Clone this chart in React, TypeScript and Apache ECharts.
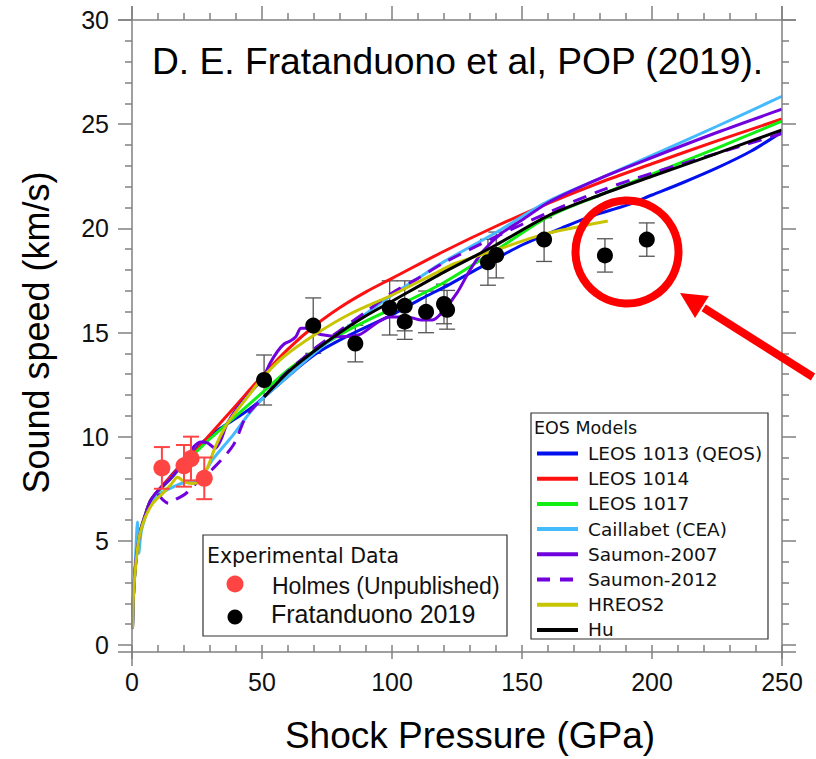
import React, { useEffect, useRef } from "react";
import * as echarts from "echarts";

// ---------- data ----------
const xTickValues = [0, 50, 100, 150, 200, 250];
const yTickValues = [0, 5, 10, 15, 20, 25, 30];

const leos1013: number[][] = [
  [0.2, 0.8], [0.5, 2.2], [1, 3.3], [2, 4.6], [3.5, 5.6], [5, 6.2], [7, 6.9], [10, 7.4],
  [13.5, 7.9], [17, 8.4], [21, 8.9], [26, 9.6], [34, 10.4], [41.5, 11.0], [48, 11.6],
  [60, 12.9], [71, 14.0], [84, 14.9], [100, 15.85], [111, 16.6], [122, 17.3], [135, 18.2],
  [150, 19.2], [165, 20.0], [177, 20.6], [190, 21.1], [200, 21.6], [212, 22.2], [225, 22.9],
  [238, 23.7], [250, 24.63],
];
const leos1014: number[][] = [
  [0.2, 0.8], [0.5, 2.2], [1, 3.3], [2, 4.6], [3.5, 5.6], [5, 6.2], [7, 6.9], [10, 7.4],
  [15, 8.1], [20, 8.8], [25, 9.4], [30, 10.1], [40, 11.5], [50, 12.9], [60, 14.2], [70, 15.3],
  [80, 16.2], [90, 16.95], [100, 17.6], [120, 18.9], [140, 20.1], [160, 21.2], [180, 22.2],
  [200, 23.1], [225, 24.2], [250, 25.25],
];
const leos1017: number[][] = [
  [0.2, 0.8], [0.5, 2.2], [1, 3.3], [2, 4.6], [3.5, 5.6], [5, 6.2], [7, 6.9], [10, 7.35],
  [15, 8.0], [20, 8.7], [25, 9.3], [30, 9.9], [40, 11.0], [50, 12.1], [60, 13.2], [70, 14.1],
  [80, 14.9], [90, 15.55], [100, 16.15], [120, 17.4], [140, 18.95], [160, 20.55], [180, 21.6],
  [200, 22.6], [225, 23.85], [250, 25.15],
];
const caillabet: number[][] = [
  [0.2, 1.0], [0.7, 2.6], [1.4, 4.3], [2.1, 5.9], [2.6, 4.4], [3.5, 5.4], [5, 6.1], [7, 6.8],
  [10, 7.2], [13.5, 7.45], [20, 7.8], [26, 7.95], [31, 8.9], [39, 10.1], [45, 11.1], [50, 11.8],
  [60, 12.9], [70, 14.0], [80, 15.0], [90, 15.9], [100, 16.8], [110, 17.6], [120, 18.4],
  [140, 19.8], [160, 21.3], [180, 22.4], [200, 23.5], [225, 24.9], [250, 26.34],
];
const saumon2007: number[][] = [
  [0.2, 0.8], [0.5, 2.2], [1, 3.3], [2, 4.6], [3.5, 5.6], [5, 6.2], [7, 6.9], [10, 7.4],
  [15, 8.0], [20, 8.8], [24, 9.55], [26.5, 9.75], [29, 9.7], [32, 9.45], [34, 9.8], [36.5, 10.6],
  [40, 11.3], [45.4, 12.1], [50.5, 12.85], [53, 13.5], [56, 14.1], [58.5, 14.45], [61, 14.6],
  [63, 14.8], [65, 15.2], [67, 15.2], [69.5, 15.05], [72.5, 14.9], [80, 14.8], [87.5, 14.9],
  [94, 15.45], [99, 15.75], [106, 15.75], [111, 15.6], [115.5, 15.6], [119.5, 16.0], [125, 16.9],
  [130, 18.0], [135, 18.9], [141.5, 19.7], [150, 20.4], [161, 21.3], [180, 22.4], [200, 23.4],
  [225, 24.6], [250, 25.72],
];
const saumon2012: number[][] = [
  [10, 7.25], [12, 6.95], [14, 6.8], [17, 7.0], [20.5, 7.25], [25, 7.8], [31, 8.45], [39, 9.6],
  [44, 11.0], [50, 11.8], [58, 12.9], [70, 14.2], [80, 15.1], [90, 16.0], [100, 16.9],
  [110, 17.6], [120, 18.35], [140, 19.6], [160, 20.75], [180, 21.8], [200, 22.65], [225, 23.6],
  [250, 24.55],
];
const hreos2: number[][] = [
  [0.2, 0.8], [0.5, 2.2], [1, 3.2], [2, 4.5], [3, 5.3], [5, 6.1], [8, 6.8], [12, 7.3], [15, 7.7],
  [17.5, 8.05], [20, 7.85], [23, 7.75], [26, 7.85], [29, 8.5], [32, 9.5], [36, 10.5], [40, 11.2],
  [45, 12.0], [50, 12.8], [58, 13.8], [71, 14.95], [84, 15.9], [100, 16.8], [116, 17.8],
  [124, 18.3], [141, 19.0], [158, 19.7], [183, 20.35],
];
const hu: number[][] = [
  [50.8, 11.9], [60, 13.1], [70, 14.1], [80, 15.0], [90, 15.8], [100, 16.5], [120, 17.9],
  [140, 19.2], [160, 20.6], [180, 21.6], [200, 22.5], [225, 23.6], [250, 24.73],
];

const holmesX = [11.5, 20, 22.7, 27.8];
const holmesY = [8.5, 8.6, 8.95, 8.0];
const holmesErr = [1.0, 1.0, 1.05, 1.0];

const fratX = [50.8, 69.7, 85.9, 99.1, 104.9, 104.9, 113.1, 120.0, 121.2, 136.9, 140.1, 158.5, 181.9, 198.0];
const fratY = [12.72, 15.33, 14.47, 16.18, 16.28, 15.52, 15.99, 16.37, 16.09, 18.37, 18.72, 19.46, 18.7, 19.46];
const fratErr = [1.2, 1.33, 0.88, 1.3, 1.2, 0.85, 1.0, 0.95, 0.93, 1.1, 1.1, 1.05, 0.8, 0.8];

const models = [
  { name: "LEOS 1013 (QEOS)", data: leos1013, color: "#0011ee", dashed: false },
  { name: "LEOS 1014", data: leos1014, color: "#ff1111", dashed: false },
  { name: "LEOS 1017", data: leos1017, color: "#11ee11", dashed: false },
  { name: "Caillabet (CEA)", data: caillabet, color: "#44bbff", dashed: false },
  { name: "Saumon-2007", data: saumon2007, color: "#7000dd", dashed: false },
  { name: "Saumon-2012", data: saumon2012, color: "#7000dd", dashed: true },
  { name: "HREOS2", data: hreos2, color: "#c8c400", dashed: false },
  { name: "Hu", data: hu, color: "#000000", dashed: false },
];

// ---------- layout ----------
const G_LEFT = 132;
const G_TOP = 20;
const G_W = 650;
const G_H = 632;
const AXIS_COLOR = "#808080";
const SANS = "'Liberation Sans', Arial, Helvetica, sans-serif";
const LEG = "'DejaVu Sans', 'Noto Sans', sans-serif";

function errorSeries(xs: number[], ys: number[], es: number[], color: string, lw: number, half: number, z: number) {
  return {
    type: "custom",
    z,
    silent: true,
    data: xs.map((x, i) => [x, ys[i] - es[i], ys[i] + es[i]]),
    encode: { x: 0, y: [1, 2] },
    renderItem: (_p: any, api: any) => {
      const x = api.value(0);
      const top = api.coord([x, api.value(2)]);
      const bot = api.coord([x, api.value(1)]);
      const st = { stroke: color, lineWidth: lw };
      return {
        type: "group",
        children: [
          { type: "line", shape: { x1: top[0], y1: top[1], x2: bot[0], y2: bot[1] }, style: st },
          { type: "line", shape: { x1: top[0] - half, y1: top[1], x2: top[0] + half, y2: top[1] }, style: st },
          { type: "line", shape: { x1: bot[0] - half, y1: bot[1], x2: bot[0] + half, y2: bot[1] }, style: st },
        ],
      };
    },
  };
}

export default function App() {
  const ref = useRef<HTMLDivElement>(null);
  useEffect(() => {
    if (!ref.current) return;
    const chart = echarts.init(ref.current, undefined, { renderer: "svg" });

    const axisCommon = {
      type: "value",
      axisLine: { show: false, onZero: false },
      splitLine: { show: false },
      axisTick: { show: true, inside: false, length: 14, lineStyle: { color: AXIS_COLOR, width: 1.5 } },
      minorTick: { show: true, splitNumber: 5, length: 7, lineStyle: { color: AXIS_COLOR, width: 1.5 } },
    };

    const xAxis = [
      {
        ...axisCommon, min: 0, max: 250, interval: 50, position: "bottom",
        axisLabel: { show: true, margin: 24, fontSize: 25, color: "#111", fontFamily: SANS,
          formatter: (v: number) => (xTickValues.includes(v) ? String(v) : "") },
        name: "Shock Pressure (GPa)", nameLocation: "middle", nameGap: 72,
        nameTextStyle: { fontSize: 37, color: "#000", fontFamily: SANS, padding: [0, 0, 0, 26] },
      },
      { ...axisCommon, min: 0, max: 250, interval: 50, position: "top", axisLabel: { show: false } },
    ];
    const yAxis = [
      {
        ...axisCommon, min: 0, max: 30, interval: 5, position: "left",
        axisLabel: { show: true, margin: 23, fontSize: 25, color: "#111", fontFamily: SANS,
          formatter: (v: number) => (yTickValues.includes(v) ? String(v) : "") },
        name: "Sound speed (km/s)", nameLocation: "middle", nameGap: 78,
        nameTextStyle: { fontSize: 36, color: "#000", fontFamily: SANS },
      },
      { ...axisCommon, min: 0, max: 30, interval: 5, position: "right", axisLabel: { show: false } },
    ];

    const lineSeries = models.map((m, i) => ({
      type: "line",
      name: m.name,
      data: m.data,
      xAxisIndex: 0,
      yAxisIndex: 0,
      showSymbol: false,
      smooth: 0.3,
      z: 3 + i * 0.01,
      lineStyle: { color: m.color, width: 3, type: m.dashed ? [14, 9] : "solid" },
      silent: true,
    }));

    const R = G_LEFT + G_W;
    const B = G_TOP + G_H;
    const axisLines = [
      { x1: G_LEFT - 14, y1: B, x2: R + 14, y2: B },
      { x1: G_LEFT - 14, y1: G_TOP, x2: R + 14, y2: G_TOP },
      { x1: G_LEFT, y1: G_TOP - 14, x2: G_LEFT, y2: B + 14 },
      { x1: R, y1: G_TOP - 14, x2: R, y2: B + 14 },
    ].map((s) => ({ type: "line", shape: s, style: { stroke: AXIS_COLOR, lineWidth: 1.5 }, z: 10 }));

    // EOS legend
    const eosX = 531, eosY = 413, eosW = 237, eosH = 226;
    const eosItems: any[] = [];
    models.forEach((m, i) => {
      const cy = 453.5 + i * 25.2;
      eosItems.push({
        type: "line",
        shape: { x1: 537, y1: cy, x2: 578, y2: cy },
        style: { stroke: m.color, lineWidth: 4, lineDash: m.dashed ? [13, 10] : null },
        z: 101,
      });
      eosItems.push({
        type: "text", x: 588, y: cy, z: 101,
        style: { text: m.name, fontSize: 18.5, fontFamily: LEG, fill: "#111", verticalAlign: "middle", align: "left" },
      });
    });

    // arrow geometry (annotation)
    const tip = [680, 293];
    const tail = [813, 377];
    const dx = tail[0] - tip[0], dy = tail[1] - tip[1];
    const len = Math.hypot(dx, dy);
    const ux = dx / len, uy = dy / len;
    const px = -uy, py = ux;
    const headL = 26, headW = 13;
    const bx = tip[0] + ux * headL, by = tip[1] + uy * headL;

    const graphic: any[] = [
      ...axisLines,
      {
        type: "text", x: 152, y: 61, z: 50,
        style: { text: "D. E. Fratanduono et al, POP (2019).", fontSize: 37.2, fontFamily: SANS, fill: "#000", verticalAlign: "middle" },
      },
      // highlight circle
      { type: "circle", shape: { cx: 627, cy: 252, r: 51.5 }, style: { fill: "none", stroke: "#ff0000", lineWidth: 8 }, z: 60 },
      // arrow
      { type: "line", shape: { x1: tail[0], y1: tail[1], x2: bx + ux * 2, y2: by + uy * 2 }, style: { stroke: "#ff0000", lineWidth: 8 }, z: 60 },
      {
        type: "polygon", z: 60,
        shape: { points: [tip, [bx + px * headW, by + py * headW], [bx - px * headW, by - py * headW]] },
        style: { fill: "#ff0000" },
      },
      // Experimental legend
      { type: "rect", shape: { x: 203, y: 535, width: 304, height: 101 }, style: { fill: "#fff", stroke: "#333", lineWidth: 1.2 }, z: 100 },
      {
        type: "text", x: 207, y: 556, z: 101,
        style: { text: "Experimental Data", fontSize: 20.5, fontFamily: LEG, fill: "#111", verticalAlign: "middle" },
      },
      { type: "circle", shape: { cx: 235, cy: 584, r: 8.5 }, style: { fill: "#ff4444" }, z: 101 },
      {
        type: "text", x: 272, y: 586, z: 101,
        style: { text: "Holmes (Unpublished)", fontSize: 23, fontFamily: SANS, fill: "#111", verticalAlign: "middle" },
      },
      { type: "circle", shape: { cx: 235, cy: 617, r: 7.5 }, style: { fill: "#000" }, z: 101 },
      {
        type: "text", x: 271, y: 614, z: 101,
        style: { text: "Fratanduono 2019", fontSize: 25, fontFamily: SANS, fill: "#111", verticalAlign: "middle" },
      },
      // EOS legend
      { type: "rect", shape: { x: eosX, y: eosY, width: eosW, height: eosH }, style: { fill: "#fff", stroke: "#333", lineWidth: 1.2 }, z: 100 },
      {
        type: "text", x: 534, y: 428, z: 101,
        style: { text: "EOS Models", fontSize: 17.5, fontFamily: LEG, fill: "#111", verticalAlign: "middle" },
      },
      ...eosItems,
    ];

    chart.setOption({
      animation: false,
      backgroundColor: "#ffffff",
      grid: { left: G_LEFT, top: G_TOP, width: G_W, height: G_H, containLabel: false },
      xAxis,
      yAxis,
      series: [
        errorSeries(fratX, fratY, fratErr, "#555555", 1.3, 8, 1),
        ...lineSeries,
        errorSeries(holmesX, holmesY, holmesErr, "#ff4444", 2, 8, 4),
        {
          type: "scatter", name: "Holmes (Unpublished)", z: 5,
          data: holmesX.map((x, i) => [x, holmesY[i]]),
          symbol: "circle", symbolSize: 17, itemStyle: { color: "#ff4444", opacity: 1 }, silent: true,
        },
        {
          type: "scatter", name: "Fratanduono 2019", z: 5,
          data: fratX.map((x, i) => [x, fratY[i]]),
          symbol: "circle", symbolSize: 16, itemStyle: { color: "#000000", opacity: 1 }, silent: true,
        },
      ],
      graphic,
    });

    return () => chart.dispose();
  }, []);

  return (
    <div
      ref={ref}
      style={{ position: "fixed", left: 0, top: 0, width: 816, height: 759, background: "#fff" }}
    />
  );
}
